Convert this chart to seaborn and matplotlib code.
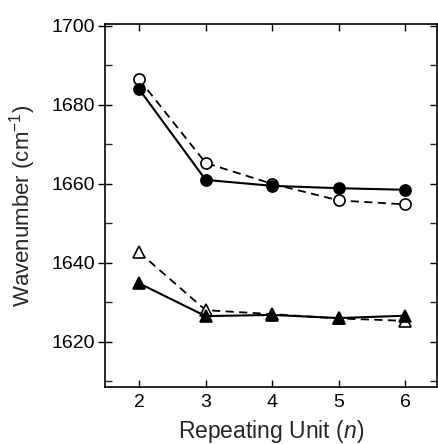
import numpy as np
import pandas as pd
import matplotlib
matplotlib.use("Agg")
import matplotlib.pyplot as plt
import seaborn as sns
from matplotlib.ticker import MultipleLocator

n_units = [2, 3, 4, 5, 6]
filled_circle = [1684.0, 1661.0, 1659.5, 1658.9, 1658.5]
open_circle = [1686.5, 1665.3, 1660.0, 1655.8, 1654.8]
filled_tri = [1634.8, 1626.5, 1626.8, 1626.0, 1626.6]
open_tri = [1642.7, 1628.0, 1627.0, 1625.9, 1625.3]

series = {
    'filled_circle': filled_circle,
    'open_circle': open_circle,
    'filled_tri': filled_tri,
    'open_tri': open_tri,
}
df = pd.concat([pd.DataFrame({'n': n_units, 'wavenumber': v, 'series': k})
                for k, v in series.items()], ignore_index=True)

sns.set_style("ticks")
plt.rcParams['font.family'] = ['Liberation Sans', 'DejaVu Sans']
plt.rcParams['mathtext.fontset'] = 'custom'
plt.rcParams['mathtext.rm'] = 'Liberation Sans'
plt.rcParams['mathtext.it'] = 'Liberation Sans:italic'

fig = plt.figure(figsize=(4.38, 4.44), dpi=100)
ax = fig.add_axes([0.24, 0.128, 0.757, 0.818])

# dashed = open markers, solid = filled markers
styles = {
    'open_circle': dict(ls=(0, (4.5, 3)), marker='o', mfc='white', lw=1.3),
    'open_tri': dict(ls=(0, (4.5, 3)), marker='^', mfc='white', lw=1.3),
    'filled_circle': dict(ls='-', marker='o', mfc='black', lw=1.5),
    'filled_tri': dict(ls='-', marker='^', mfc='black', lw=1.5),
}
for key, st in styles.items():
    sub = df[df['series'] == key]
    sns.lineplot(data=sub, x='n', y='wavenumber', ax=ax, color='black',
                 linestyle=st['ls'], linewidth=st['lw'], marker=st['marker'],
                 markersize=8, markerfacecolor=st['mfc'], markeredgecolor='black',
                 markeredgewidth=1.2, legend=False)

ax.set_xlim(1.49, 6.47)
ax.set_ylim(1608.5, 1700.5)
ax.set_xticks(n_units)
ax.yaxis.set_major_locator(MultipleLocator(20))
ax.yaxis.set_minor_locator(MultipleLocator(10))

for s in ax.spines.values():
    s.set_visible(True)
    s.set_linewidth(1.2)
    s.set_color('black')

ax.tick_params(axis='x', which='major', direction='in', length=5, width=1,
               top=True, bottom=True, labelsize=14, pad=5, colors='black')
ax.tick_params(axis='y', which='major', direction='inout', length=10, width=1,
               left=True, right=True, labelsize=14, pad=2, colors='black')
ax.tick_params(axis='y', which='minor', direction='in', length=5, width=1,
               left=True, right=True)

ax.set_xlabel('Repeating Unit ($\\it{n}$)', fontsize=16.5, labelpad=5)
ax.set_ylabel('Wavenumber (cm$^{-1}$)', fontsize=16, labelpad=10)

fig.savefig('out.png', dpi=100)
